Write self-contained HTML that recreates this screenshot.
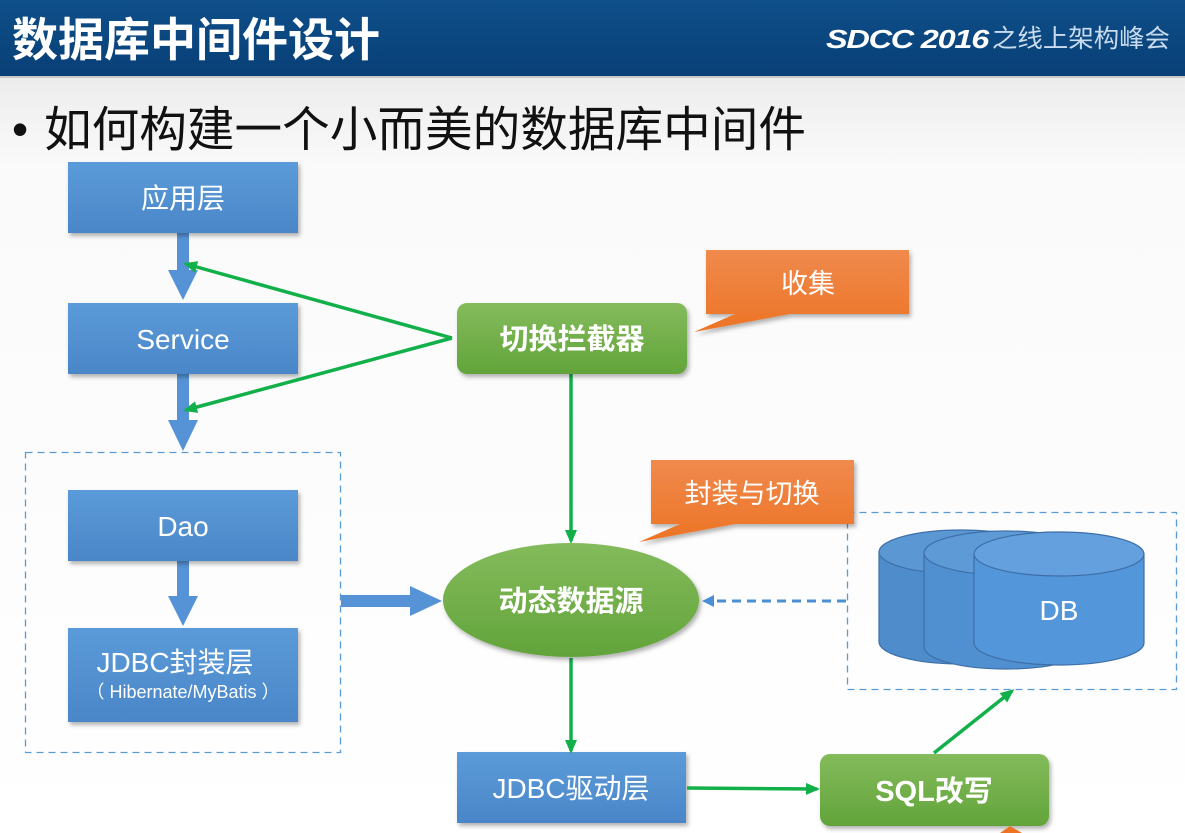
<!DOCTYPE html>
<html><head><meta charset="utf-8"><style>
body{margin:0;width:1185px;height:833px;overflow:hidden;background:#fff}
svg{display:block}
text{font-family:"Liberation Sans","Noto Sans CJK SC",sans-serif}
</style></head><body>
<svg width="1185" height="833" viewBox="0 0 1185 833">
<defs>
<linearGradient id="hd" x1="0" y1="0" x2="0" y2="1"><stop offset="0" stop-color="#0f4f8a"/><stop offset="1" stop-color="#083f76"/></linearGradient>
<linearGradient id="bd" x1="0" y1="0" x2="0" y2="1"><stop offset="0" stop-color="#ececec"/><stop offset="0.12" stop-color="#fafafa"/><stop offset="1" stop-color="#ffffff"/></linearGradient>
<linearGradient id="bl" x1="0" y1="0" x2="0" y2="1"><stop offset="0" stop-color="#5b9bd9"/><stop offset="1" stop-color="#4a86c8"/></linearGradient>
<linearGradient id="gr" x1="0" y1="0" x2="0" y2="1"><stop offset="0" stop-color="#84bb5c"/><stop offset="1" stop-color="#62a43a"/></linearGradient>
<linearGradient id="or" x1="0" y1="0" x2="0" y2="1"><stop offset="0" stop-color="#f08a4e"/><stop offset="1" stop-color="#ec7424"/></linearGradient>
<filter id="sh" x="-10%" y="-10%" width="130%" height="140%"><feDropShadow dx="2" dy="3" stdDeviation="2" flood-opacity="0.3"/></filter>
<marker id="ga" markerWidth="14" markerHeight="12" refX="11" refY="6" orient="auto" markerUnits="userSpaceOnUse"><path d="M0,0 L14,6 L0,12 Z" fill="#11b04a"/></marker>
<marker id="ba" markerWidth="12" markerHeight="12" refX="8" refY="6" orient="auto" markerUnits="userSpaceOnUse"><path d="M0,0 L12,6 L0,12 Z" fill="#4a8fd4"/></marker>
</defs>
<rect x="0" y="76" width="1185" height="757" fill="url(#bd)"/>
<rect x="0" y="0" width="1185" height="76" fill="url(#hd)"/>
<rect x="0" y="76" width="1185" height="2" fill="#c8c8c8"/>
<text x="12" y="56" font-size="46" font-weight="bold" fill="#fff">数据库中间件设计</text>
<text x="826" y="48" font-size="26" font-weight="bold" font-style="italic" fill="#fff" letter-spacing="-1" textLength="162" lengthAdjust="spacingAndGlyphs">SDCC 2016</text>
<text x="992" y="47" font-size="25" fill="#c9dbee" textLength="178" lengthAdjust="spacingAndGlyphs">之线上架构峰会</text>
<text x="12" y="145" font-size="46" fill="#111">•</text>
<text x="44" y="146" font-size="48" fill="#111" textLength="762" lengthAdjust="spacingAndGlyphs">如何构建一个小而美的数据库中间件</text>

<rect x="25.5" y="452.5" width="315" height="300" fill="none" stroke="#5b9bd5" stroke-width="1.3" stroke-dasharray="7,5"/>
<rect x="847.5" y="512.5" width="329" height="177" fill="none" stroke="#5b9bd5" stroke-width="1.3" stroke-dasharray="7,5"/>

<g fill="#5593d6">
<rect x="177" y="233" width="12" height="40"/><path d="M168,270 L198,270 L183,300 Z"/>
<rect x="177" y="373" width="12" height="50"/><path d="M168,420 L198,420 L183,451 Z"/>
<rect x="177" y="561" width="12" height="38"/><path d="M168,596 L198,596 L183,626 Z"/>
<rect x="341" y="595" width="72" height="12"/><path d="M410,586 L442,601 L410,616 Z"/>
</g>

<g filter="url(#sh)">
<rect x="68" y="162" width="230" height="71" fill="url(#bl)"/>
<rect x="68" y="303" width="230" height="71" fill="url(#bl)"/>
<rect x="68" y="490" width="230" height="71" fill="url(#bl)"/>
<rect x="68" y="628" width="230" height="94" fill="url(#bl)"/>
<rect x="457" y="752" width="229" height="71" fill="url(#bl)"/>
</g>
<g fill="#fff" text-anchor="middle">
<text x="183" y="208" font-size="28">应用层</text>
<text x="183" y="349" font-size="28">Service</text>
<text x="183" y="536" font-size="28">Dao</text>
<text x="175" y="672" font-size="28">JDBC封装层</text>
<text x="183" y="698" font-size="18">（ Hibernate/MyBatis ）</text>
<text x="571" y="798" font-size="28">JDBC驱动层</text>
</g>

<g stroke="#11b04a" stroke-width="3.5" fill="none" marker-end="url(#ga)">
<line x1="452" y1="338" x2="186" y2="264"/>
<line x1="452" y1="338" x2="186" y2="410"/>
<line x1="571" y1="374" x2="571" y2="541"/>
<line x1="571" y1="658" x2="571" y2="751"/>
<line x1="687" y1="788" x2="817" y2="789"/>
<line x1="934" y1="753" x2="1012" y2="691"/>
</g>
<line x1="846" y1="601" x2="706" y2="601" stroke="#4a8fd4" stroke-width="3" stroke-dasharray="9,6" marker-end="url(#ba)"/>

<g filter="url(#sh)">
<rect x="457" y="303" width="230" height="71" rx="10" fill="url(#gr)"/>
<ellipse cx="571" cy="600" rx="128" ry="57" fill="url(#gr)"/>
<rect x="820" y="754" width="229" height="72" rx="10" fill="url(#gr)"/>
</g>
<g fill="#fff" text-anchor="middle" font-weight="bold">
<text x="572" y="349" font-size="29">切换拦截器</text>
<text x="571" y="611" font-size="29">动态数据源</text>
<text x="934" y="801" font-size="29">SQL改写</text>
</g>

<g filter="url(#sh)">
<path d="M706,250 H909 V314 H790 L694,332 L735,314 H706 Z" fill="url(#or)"/>
<path d="M651,460 H854 V524 H735 L639,542 L680,524 H651 Z" fill="url(#or)"/>
</g>
<path d="M1000,833 L1010,826 L1022,833 Z" fill="#ec7424"/>
<text x="808" y="293" font-size="27" fill="#fff" text-anchor="middle">收集</text>
<text x="752" y="503" font-size="27" fill="#fff" text-anchor="middle">封装与切换</text>

<g stroke="#3d6fa8" stroke-width="1.2">
<path d="M879,552 V642 A82,22 0 0 0 1043,642 V552 Z" fill="#4f8ccc"/>
<ellipse cx="961" cy="552" rx="82" ry="22" fill="#5b97d3"/>
<path d="M924,553 V647 A82,22 0 0 0 1088,647 V553 Z" fill="#5190d0"/>
<ellipse cx="1006" cy="553" rx="82" ry="22" fill="#5e9ad6"/>
<path d="M974,554 V643 A85,22 0 0 0 1144,643 V554 Z" fill="#5396da"/>
<ellipse cx="1059" cy="554" rx="85" ry="22" fill="#64a0dd"/>
</g>
<text x="1059" y="620" font-size="28" fill="#fff" text-anchor="middle">DB</text>
</svg>
</body></html>
